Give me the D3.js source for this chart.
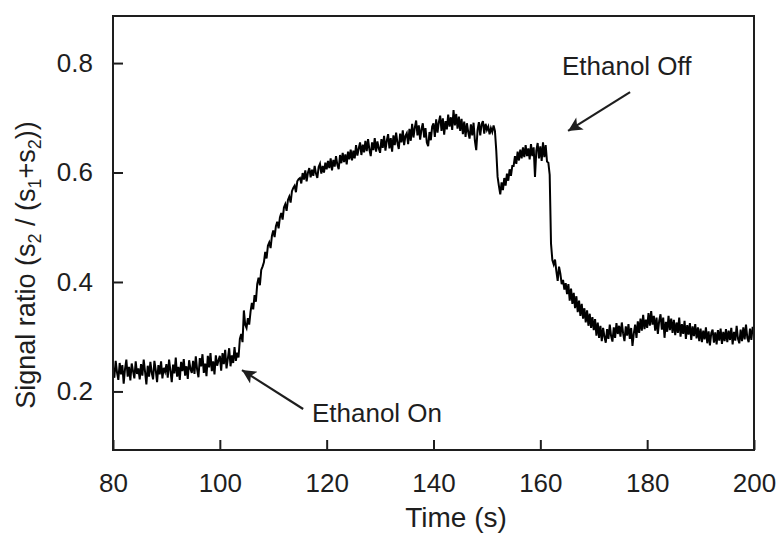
<!DOCTYPE html>
<html>
<head>
<meta charset="utf-8">
<script src="https://cdn.jsdelivr.net/npm/d3@7"></script>
<style>
  body { margin: 0; background: #fff; }
</style>
</head>
<body>
<script>
// signal ratio sampled every 0.25 s from 80 s to 200 s (one row = 5 s)
let sampleStart = 80;
let sampleStep = 0.25;
let ratio = [
  0.244, 0.225, 0.256, 0.235, 0.221, 0.252, 0.231, 0.248, 0.214, 0.241, 0.258, 0.227, 0.245, 0.220, 0.251, 0.237, 0.224, 0.255, 0.232, 0.242,
  0.222, 0.250, 0.229, 0.258, 0.236, 0.213, 0.247, 0.227, 0.254, 0.234, 0.222, 0.256, 0.239, 0.217, 0.248, 0.231, 0.255, 0.224, 0.243, 0.236,
  0.250, 0.225, 0.258, 0.238, 0.217, 0.249, 0.233, 0.262, 0.227, 0.245, 0.221, 0.254, 0.237, 0.259, 0.229, 0.246, 0.223, 0.257, 0.241, 0.234,
  0.256, 0.232, 0.264, 0.240, 0.226, 0.261, 0.246, 0.268, 0.234, 0.251, 0.228, 0.265, 0.244, 0.270, 0.237, 0.255, 0.231, 0.266, 0.247, 0.257,
  0.265, 0.238, 0.270, 0.250, 0.276, 0.242, 0.260, 0.279, 0.246, 0.266, 0.252, 0.281, 0.256, 0.271, 0.262, 0.296, 0.305, 0.290, 0.348, 0.322,
  0.316, 0.334, 0.322, 0.346, 0.362, 0.350, 0.376, 0.364, 0.396, 0.408, 0.394, 0.422, 0.428, 0.436, 0.455, 0.443, 0.466, 0.472, 0.462, 0.484,
  0.494, 0.482, 0.502, 0.510, 0.498, 0.518, 0.526, 0.514, 0.536, 0.542, 0.530, 0.550, 0.556, 0.545, 0.566, 0.572, 0.576, 0.564, 0.584, 0.588,
  0.590, 0.580, 0.599, 0.587, 0.604, 0.584, 0.600, 0.608, 0.591, 0.605, 0.594, 0.612, 0.598, 0.590, 0.610, 0.616, 0.598, 0.612, 0.600, 0.618,
  0.606, 0.621, 0.608, 0.626, 0.604, 0.623, 0.611, 0.630, 0.614, 0.606, 0.632, 0.617, 0.636, 0.619, 0.633, 0.615, 0.638, 0.624, 0.642, 0.622,
  0.640, 0.626, 0.650, 0.631, 0.644, 0.655, 0.632, 0.651, 0.637, 0.658, 0.639, 0.661, 0.642, 0.630, 0.655, 0.641, 0.663, 0.638, 0.657, 0.644,
  0.636, 0.661, 0.645, 0.667, 0.640, 0.658, 0.670, 0.644, 0.663, 0.638, 0.668, 0.650, 0.673, 0.654, 0.643, 0.671, 0.655, 0.677, 0.650, 0.667,
  0.672, 0.652, 0.680, 0.658, 0.689, 0.664, 0.682, 0.695, 0.668, 0.686, 0.660, 0.679, 0.690, 0.664, 0.681, 0.655, 0.648, 0.674, 0.659, 0.684,
  0.690, 0.665, 0.697, 0.673, 0.692, 0.704, 0.676, 0.699, 0.669, 0.694, 0.679, 0.706, 0.684, 0.701, 0.678, 0.714, 0.686, 0.707, 0.680, 0.702,
  0.676, 0.698, 0.670, 0.693, 0.665, 0.690, 0.674, 0.662, 0.688, 0.668, 0.691, 0.658, 0.641, 0.678, 0.692, 0.668, 0.688, 0.694, 0.671, 0.689,
  0.678, 0.684, 0.670, 0.681, 0.674, 0.686, 0.676, 0.640, 0.592, 0.575, 0.560, 0.582, 0.568, 0.590, 0.576, 0.598, 0.585, 0.606, 0.594, 0.612,
  0.612, 0.630, 0.616, 0.638, 0.622, 0.642, 0.626, 0.646, 0.628, 0.650, 0.630, 0.644, 0.624, 0.652, 0.630, 0.646, 0.592, 0.640, 0.654, 0.626,
  0.648, 0.621, 0.655, 0.628, 0.650, 0.620, 0.618, 0.596, 0.470, 0.440, 0.432, 0.441, 0.420, 0.402, 0.428, 0.415, 0.396, 0.404, 0.386, 0.398,
  0.378, 0.396, 0.366, 0.388, 0.360, 0.380, 0.352, 0.374, 0.345, 0.366, 0.338, 0.360, 0.333, 0.352, 0.326, 0.348, 0.320, 0.342, 0.316, 0.336,
  0.312, 0.332, 0.302, 0.326, 0.298, 0.320, 0.292, 0.316, 0.300, 0.289, 0.314, 0.296, 0.322, 0.301, 0.291, 0.317, 0.298, 0.325, 0.305, 0.320,
  0.300, 0.326, 0.306, 0.292, 0.319, 0.302, 0.323, 0.296, 0.316, 0.283, 0.306, 0.322, 0.298, 0.328, 0.307, 0.333, 0.311, 0.340, 0.314, 0.331,
  0.316, 0.343, 0.320, 0.347, 0.322, 0.338, 0.311, 0.335, 0.305, 0.329, 0.341, 0.313, 0.335, 0.298, 0.327, 0.309, 0.338, 0.312, 0.333, 0.307,
  0.331, 0.303, 0.326, 0.307, 0.335, 0.300, 0.323, 0.305, 0.329, 0.296, 0.321, 0.304, 0.325, 0.294, 0.319, 0.301, 0.323, 0.297, 0.317, 0.292,
  0.315, 0.290, 0.311, 0.295, 0.317, 0.288, 0.310, 0.284, 0.307, 0.313, 0.289, 0.308, 0.286, 0.312, 0.293, 0.315, 0.287, 0.309, 0.292, 0.314,
  0.290, 0.311, 0.294, 0.316, 0.286, 0.309, 0.293, 0.320, 0.296, 0.288, 0.313, 0.292, 0.317, 0.295, 0.322, 0.298, 0.290, 0.315, 0.294, 0.318,
  0.305
];

let xTicks = [80, 100, 120, 140, 160, 180, 200];
let yTicks = [0.2, 0.4, 0.6, 0.8];

// annotations: label, text anchor point, arrow tail, arrow tip (data units)
let notes = [
  { label: 'Ethanol Off', tx: 164.05, ty: 0.778, x1: 176.8, y1: 0.747, x2: 165.2, y2: 0.676 },
  { label: 'Ethanol On', tx: 117.25, ty: 0.144, x1: 115.6, y1: 0.168, x2: 104.15, y2: 0.239 }
];

let data = ratio.map((v, i) => ({ time: sampleStart + i * sampleStep, value: v }));

let width = 781;
let height = 535;
let margins = { top: 16, right: 27, bottom: 85, left: 113 };
let font = '"Liberation Sans", Arial, Helvetica, sans-serif';
let ink = '#1e1e1e';

let xScale = d3.scaleLinear([80, 200], [margins.left, width - margins.right]);
let yScale = d3.scaleLinear([0.093, 0.886], [height - margins.bottom, margins.top]);

let svg = d3.create('svg')
  .attr('width', width)
  .attr('height', height)
  .attr('font-family', font);

let xAxis = d3.axisBottom(xScale)
  .tickValues(xTicks)
  .tickFormat(d3.format('d'))
  .tickSizeInner(-10)
  .tickSizeOuter(0)
  .tickPadding(24);

let yAxis = d3.axisLeft(yScale)
  .tickValues(yTicks)
  .tickFormat(d3.format('.1f'))
  .tickSizeInner(-10)
  .tickSizeOuter(0)
  .tickPadding(20);

let gx = svg.append('g')
  .attr('transform', `translate(0,${height - margins.bottom})`)
  .call(xAxis);
gx.select('.domain').remove();
gx.selectAll('.tick line').attr('stroke', ink).attr('stroke-width', 2);
gx.selectAll('.tick text')
  .attr('font-size', 26)
  .attr('fill', ink)
  .attr('font-family', font);

let gy = svg.append('g')
  .attr('transform', `translate(${margins.left},0)`)
  .call(yAxis);
gy.select('.domain').remove();
gy.selectAll('.tick line').attr('stroke', ink).attr('stroke-width', 2);
gy.selectAll('.tick text')
  .attr('font-size', 26)
  .attr('fill', ink)
  .attr('font-family', font);

svg.append('path')
  .datum(data)
  .attr('d', d3.line()
    .x(d => xScale(d.time))
    .y(d => yScale(d.value))
  )
  .attr('fill', 'none')
  .attr('stroke', '#000')
  .attr('stroke-width', 2);

// frame
svg.append('rect')
  .attr('x', margins.left)
  .attr('y', margins.top)
  .attr('width', width - margins.left - margins.right)
  .attr('height', height - margins.top - margins.bottom)
  .attr('fill', 'none')
  .attr('stroke', ink)
  .attr('stroke-width', 2);

// arrow heads
svg.append('defs')
  .append('marker')
  .attr('id', 'head')
  .attr('viewBox', '0 0 10 10')
  .attr('refX', 10)
  .attr('refY', 5)
  .attr('markerUnits', 'userSpaceOnUse')
  .attr('markerWidth', 18)
  .attr('markerHeight', 14)
  .attr('orient', 'auto')
  .append('path')
  .attr('d', 'M0,0 L10,5 L0,10 L2.5,5 Z')
  .attr('fill', ink);

let ann = svg.append('g');
ann.selectAll('line')
  .data(notes)
  .join('line')
  .attr('x1', d => xScale(d.x1))
  .attr('y1', d => yScale(d.y1))
  .attr('x2', d => xScale(d.x2))
  .attr('y2', d => yScale(d.y2))
  .attr('stroke', ink)
  .attr('stroke-width', 2.2)
  .attr('marker-end', 'url(#head)');

ann.selectAll('text')
  .data(notes)
  .join('text')
  .text(d => d.label)
  .attr('x', d => xScale(d.tx))
  .attr('y', d => yScale(d.ty))
  .attr('font-size', 26)
  .attr('fill', ink);

svg.append('text')
  .text('Time (s)')
  .attr('x', 456)
  .attr('y', 527)
  .attr('text-anchor', 'middle')
  .attr('font-size', 28)
  .attr('fill', ink);

let yTitle = svg.append('text')
  .attr('transform', 'rotate(-90)')
  .attr('x', -265)
  .attr('y', 35)
  .attr('text-anchor', 'middle')
  .attr('font-size', 27)
  .attr('fill', ink);
yTitle.append('tspan').text('Signal ratio (');
yTitle.append('tspan').text('s');
yTitle.append('tspan').text('2').attr('font-size', 18).attr('dy', 6);
yTitle.append('tspan').text(' / (').attr('dy', -6);
yTitle.append('tspan').text('s');
yTitle.append('tspan').text('1').attr('font-size', 18).attr('dy', 6);
yTitle.append('tspan').text('+s').attr('dy', -6);
yTitle.append('tspan').text('2').attr('font-size', 18).attr('dy', 6);
yTitle.append('tspan').text('))').attr('dy', -6);

document.body.append(svg.node());
</script>
</body>
</html>
